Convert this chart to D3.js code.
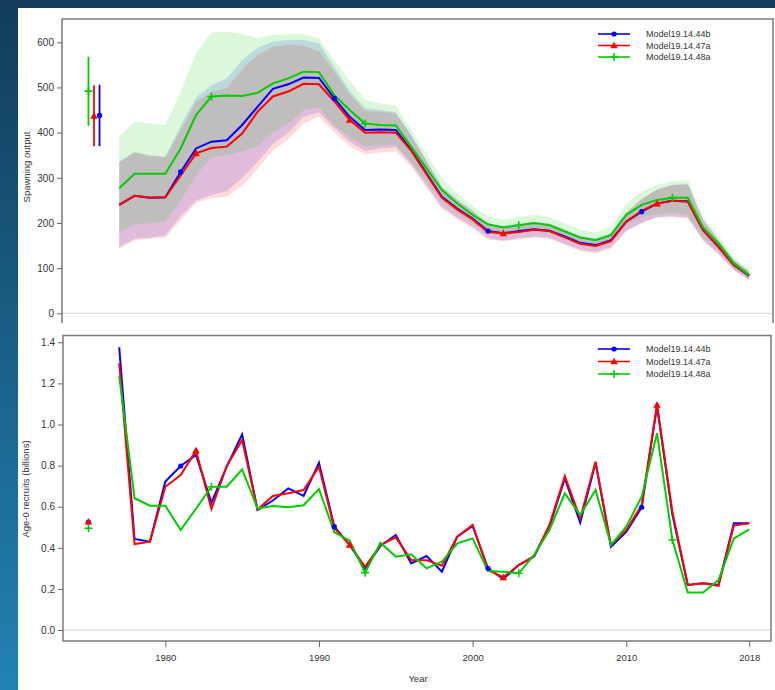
<!DOCTYPE html>
<html>
<head>
<meta charset="utf-8">
<script src="https://cdn.jsdelivr.net/npm/d3@7"></script>
<style>
  body { margin: 0; padding: 0; }
  svg { display: block; font-family: "Liberation Sans", Arial, sans-serif; }
  .tick text { fill: #333; }
  .tick line { stroke: #666; }
</style>
</head>
<body>
<svg id="chart"></svg>
<script>
// ---- data ----
const years = [1977,1978,1979,1980,1981,1982,1983,1984,1985,1986,1987,1988,1989,1990,
  1991,1992,1993,1994,1995,1996,1997,1998,1999,2000,2001,2002,2003,2004,2005,2006,
  2007,2008,2009,2010,2011,2012,2013,2014,2015,2016,2017,2018];

const models = ["Model19.14.44b", "Model19.14.47a", "Model19.14.48a"];
const colors = ["#0000ff", "#ff0000", "#00cd00"];
const shades = ["rgba(0,0,255,0.14)", "rgba(255,0,0,0.14)", "rgba(0,205,0,0.14)"];
const markerYears = [[1981,1991,2001,2011],[1982,1992,2002,2012],[1983,1993,2003,2013]];

// spawning output
const ssb44b = [240,260,256,257,313,365,380,383,417,457,497,507,522,521,476,435,406,407,406,362,
  310,258,232,210,182,177,182,186,183,170,156,151,162,203,225,243,249,248,184,147,107,83];
const ssb47a = [240,260,256,257,305,354,366,369,398,446,480,491,508,507,469,428,400,401,400,360,
  308,256,230,208,180,177,180,185,182,168,154,149,160,203,227,243,249,247,184,147,107,84];
const ssb48a = [277,309,309,309,365,439,480,482,481,488,509,520,535,534,483,450,420,417,416,369,
  321,273,243,218,197,190,195,200,195,181,168,162,173,218,240,251,256,256,190,155,111,85];

const ssbLo44b = [147,165,168,172,215,250,262,270,300,335,375,400,435,445,410,380,360,365,368,330,
  283,236,212,192,166,161,166,170,167,154,141,136,146,183,200,213,215,212,162,132,96,74];
const ssbHi44b = [336,357,350,347,415,478,505,520,560,588,602,605,605,598,545,492,455,450,445,395,
  338,281,252,228,198,193,198,202,199,186,171,166,178,224,252,274,284,286,206,162,118,92];
const ssbLo47a = [143,162,165,168,205,245,255,258,282,320,360,385,420,435,400,370,352,356,358,325,
  278,232,208,188,163,160,163,168,165,151,138,133,143,182,200,212,214,210,161,131,95,73];
const ssbHi47a = [334,356,348,345,405,468,490,498,540,572,590,595,592,580,535,485,448,446,442,393,
  336,279,250,226,196,193,196,201,198,184,169,164,176,223,254,274,284,285,207,163,118,94];
const ssbLo48a = [178,198,199,203,250,305,345,350,358,370,400,420,450,457,415,390,370,372,374,334,
  292,248,222,199,180,173,178,183,178,164,152,146,155,195,212,220,221,218,167,139,99,76];
const ssbHi48a = [391,424,421,417,491,576,621,624,618,609,616,618,618,609,560,515,472,465,460,407,
  352,299,265,238,215,207,213,218,213,199,185,179,192,242,270,284,292,295,214,172,124,95];

// virgin (unfished) spawning output, with interval, drawn left of the series
const virginYear = [1975.72, 1975.36, 1975.0];
const virginSsb = [438, 437, 492];
const virginSsbLo = [370, 370, 415];
const virginSsbHi = [506, 505, 568];

// age-0 recruits (billions)
const rec44b = [1.376,0.443,0.43,0.722,0.798,0.852,0.62,0.795,0.952,0.584,0.63,0.689,0.652,0.814,
  0.503,0.414,0.30,0.409,0.462,0.324,0.36,0.284,0.454,0.506,0.30,0.248,0.316,0.357,0.503,0.738,
  0.522,0.814,0.405,0.478,0.597,1.09,0.56,0.219,0.227,0.219,0.52,0.52];
const rec47a = [1.298,0.418,0.43,0.697,0.754,0.873,0.589,0.798,0.925,0.586,0.652,0.665,0.681,0.795,
  0.495,0.414,0.308,0.414,0.451,0.34,0.34,0.313,0.454,0.511,0.292,0.256,0.316,0.36,0.511,0.749,
  0.543,0.819,0.414,0.487,0.608,1.095,0.575,0.219,0.227,0.215,0.508,0.52];
const rec48a = [1.236,0.641,0.605,0.605,0.487,0.59,0.697,0.697,0.782,0.592,0.603,0.597,0.607,0.686,
  0.475,0.435,0.279,0.425,0.357,0.368,0.30,0.332,0.422,0.446,0.287,0.284,0.276,0.365,0.487,0.665,
  0.56,0.681,0.414,0.503,0.649,0.957,0.438,0.182,0.182,0.243,0.446,0.49];
const virginRecYear = 1975;
const virginRec = [0.525, 0.527, 0.495];

const ssbTicks = [0,100,200,300,400,500,600];
const recTicks = [0,0.2,0.4,0.6,0.8,1.0,1.2,1.4];
const yearTicks = [1980,1990,2000,2010,2018];

const ssb = [ssb44b, ssb47a, ssb48a];
const ssbLo = [ssbLo44b, ssbLo47a, ssbLo48a];
const ssbHi = [ssbHi44b, ssbHi47a, ssbHi48a];
const rec = [rec44b, rec47a, rec48a];

// ---- layout ----
const W = 775, H = 690;
const svg = d3.select("#chart").attr("width", W).attr("height", H);

const defs = svg.append("defs");
const bg = defs.append("linearGradient").attr("id", "slidebg")
  .attr("x1", 0).attr("y1", 0).attr("x2", 0).attr("y2", 1);
bg.append("stop").attr("offset", "0%").attr("stop-color", "#123c59");
bg.append("stop").attr("offset", "100%").attr("stop-color", "#2282b4");

svg.append("rect").attr("width", W).attr("height", H).attr("fill", "url(#slidebg)");
svg.append("rect").attr("x", 18).attr("y", 8).attr("width", W - 18).attr("height", H - 8).attr("fill", "#fff");

const x = d3.scaleLinear().domain([1980, 2010]).range([165.3, 626.3]);
const yTop = d3.scaleLinear().domain([0, 600]).range([313.3, 42.3]);
const yBot = d3.scaleLinear().domain([0, 1.4]).range([630, 342.3]);

const topBox = {left: 62, top: 19, right: 773, bottom: 323};
const botBox = {left: 63, top: 335.5, right: 771, bottom: 641};

function marker(g, i, cx, cy) {
  if (i === 0) {
    g.append("circle").attr("cx", cx).attr("cy", cy).attr("r", 2.6).attr("fill", colors[0]);
  } else if (i === 1) {
    const s = 3.8;
    g.append("path")
      .attr("d", `M${cx},${cy - s}L${cx + s},${cy + s * 0.75}L${cx - s},${cy + s * 0.75}Z`)
      .attr("fill", colors[1]);
  } else {
    const s = 4;
    g.append("path")
      .attr("d", `M${cx - s},${cy}H${cx + s}M${cx},${cy - s}V${cy + s}`)
      .attr("stroke", colors[2]).attr("stroke-width", 1.6).attr("fill", "none");
  }
}

function legend(yRows) {
  const lg = svg.append("g");
  models.forEach((m, i) => {
    lg.append("line").attr("x1", 598).attr("x2", 630).attr("y1", yRows[i]).attr("y2", yRows[i])
      .attr("stroke", colors[i]).attr("stroke-width", 1.6);
    marker(lg, i, 614, yRows[i]);
    lg.append("text").attr("x", 646).attr("y", yRows[i]).attr("dy", "0.35em")
      .style("font-size", "9px").attr("fill", "#333").text(m);
  });
}

// ===== top panel: spawning output =====
const gTop = svg.append("g");

gTop.append("line")
  .attr("x1", topBox.left).attr("x2", topBox.right)
  .attr("y1", yTop(0)).attr("y2", yTop(0))
  .attr("stroke", "#d4d4d4").attr("stroke-width", 1);

const band = d3.area()
  .x((d, j) => x(years[j]))
  .y0(d => yTop(d[0]))
  .y1(d => yTop(d[1]));

[0, 1, 2].forEach(i => {
  gTop.append("path")
    .datum(ssbLo[i].map((lo, j) => [lo, ssbHi[i][j]]))
    .attr("d", band)
    .attr("fill", shades[i]);
});

const lineTop = d3.line().x((d, j) => x(years[j])).y(d => yTop(d));
[0, 1, 2].forEach(i => {
  gTop.append("path").datum(ssb[i]).attr("d", lineTop)
    .attr("fill", "none").attr("stroke", colors[i]).attr("stroke-width", 2);
});
[0, 1, 2].forEach(i => {
  markerYears[i].forEach(yr => {
    const j = years.indexOf(yr);
    marker(gTop, i, x(yr), yTop(ssb[i][j]));
  });
});

// virgin spawning output with intervals
[2, 1, 0].forEach(i => {
  gTop.append("line")
    .attr("x1", x(virginYear[i])).attr("x2", x(virginYear[i]))
    .attr("y1", yTop(virginSsbLo[i])).attr("y2", yTop(virginSsbHi[i]))
    .attr("stroke", colors[i]).attr("stroke-width", 1.8);
  marker(gTop, i, x(virginYear[i]), yTop(virginSsb[i]));
});

gTop.append("path")
  .attr("d", `M${topBox.left},${topBox.bottom}V${topBox.top}H${topBox.right}V${topBox.bottom}`)
  .attr("fill", "none").attr("stroke", "#7a7a7a").attr("stroke-width", 1.5);

gTop.append("g")
  .attr("transform", `translate(${topBox.left},0)`)
  .call(d3.axisLeft(yTop).tickValues(ssbTicks).tickSize(5).tickPadding(3))
  .call(g => g.select(".domain").remove())
  .call(g => g.selectAll("text").style("font-size", "10px"));

svg.append("text")
  .attr("transform", "translate(27,167) rotate(-90)")
  .attr("text-anchor", "middle").attr("dy", "0.35em")
  .style("font-size", "9.5px").attr("fill", "#333")
  .text("Spawning output");

legend([34, 45.5, 57]);

// ===== bottom panel: recruitment =====
const gBot = svg.append("g");

gBot.append("line")
  .attr("x1", botBox.left).attr("x2", botBox.right)
  .attr("y1", yBot(0)).attr("y2", yBot(0))
  .attr("stroke", "#d4d4d4").attr("stroke-width", 1);

const lineBot = d3.line().x((d, j) => x(years[j])).y(d => yBot(d));
[0, 1, 2].forEach(i => {
  gBot.append("path").datum(rec[i]).attr("d", lineBot)
    .attr("fill", "none").attr("stroke", colors[i]).attr("stroke-width", 2);
});
[0, 1, 2].forEach(i => {
  markerYears[i].forEach(yr => {
    const j = years.indexOf(yr);
    marker(gBot, i, x(yr), yBot(rec[i][j]));
  });
  marker(gBot, i, x(virginRecYear), yBot(virginRec[i]));
});

gBot.append("rect")
  .attr("x", botBox.left).attr("y", botBox.top)
  .attr("width", botBox.right - botBox.left).attr("height", botBox.bottom - botBox.top)
  .attr("fill", "none").attr("stroke", "#7a7a7a").attr("stroke-width", 1.5);

gBot.append("g")
  .attr("transform", `translate(${botBox.left},0)`)
  .call(d3.axisLeft(yBot).tickValues(recTicks).tickFormat(d3.format(".1f")).tickSize(5).tickPadding(3))
  .call(g => g.select(".domain").remove())
  .call(g => g.selectAll("text").style("font-size", "10px"));

gBot.append("g")
  .attr("transform", `translate(0,${botBox.bottom})`)
  .call(d3.axisBottom(x).tickValues(yearTicks).tickFormat(d3.format("d")).tickSize(6).tickPadding(7))
  .call(g => g.select(".domain").remove())
  .call(g => g.selectAll("text").style("font-size", "9.5px"));

svg.append("text")
  .attr("transform", "translate(26,489) rotate(-90)")
  .attr("text-anchor", "middle").attr("dy", "0.35em")
  .style("font-size", "9.5px").attr("fill", "#333")
  .text("Age-0 recruits (billions)");

svg.append("text")
  .attr("x", 418).attr("y", 679).attr("dy", "0.35em")
  .attr("text-anchor", "middle")
  .style("font-size", "9.5px").attr("fill", "#333")
  .text("Year");

legend([349, 361.5, 374]);
</script>
</body>
</html>
